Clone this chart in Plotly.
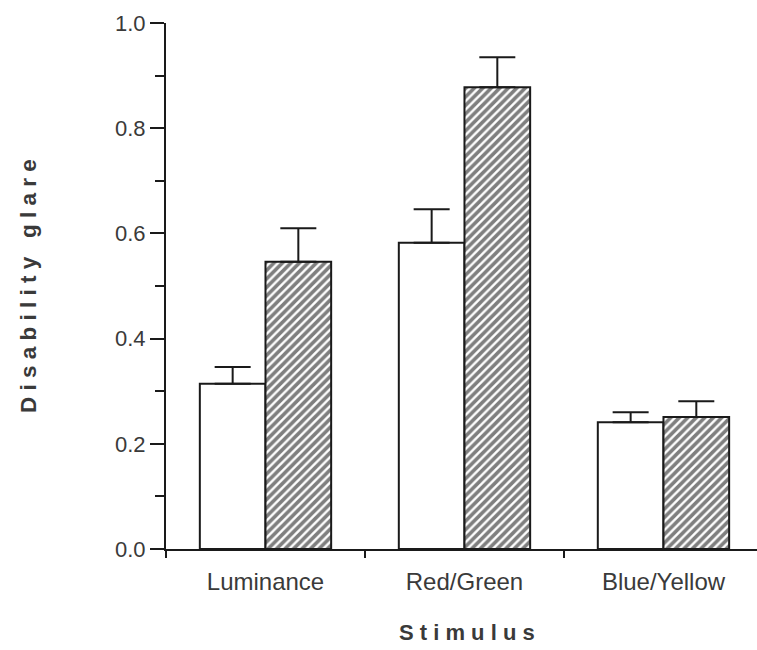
import plotly.graph_objects as go

# Disability glare measured for each stimulus type, two conditions
stimuli = ["Luminance", "Red/Green", "Blue/Yellow"]
open_values = [0.314, 0.582, 0.241]
open_errors = [0.032, 0.064, 0.019]
hatched_values = [0.546, 0.878, 0.251]
hatched_errors = [0.064, 0.057, 0.030]
y_ticks = [0.0, 0.2, 0.4, 0.6, 0.8, 1.0]
y_tick_labels = ["0.0", "0.2", "0.4", "0.6", "0.8", "1.0"]

FONT = "Liberation Sans, Arial, Helvetica, sans-serif"
INK = "#1a1a1a"
TEXT = "#3a3a3a"


def spaced(s, gap=" "):
    return gap.join(list(s))


fig = go.Figure()

fig.add_trace(go.Bar(
    x=stimuli, y=open_values,
    marker=dict(color="white", line=dict(color=INK, width=2)),
    error_y=dict(type="data", symmetric=False, array=open_errors,
                 arrayminus=[0] * len(open_errors),
                 color=INK, thickness=2, width=18),
    showlegend=False,
))

fig.add_trace(go.Bar(
    x=stimuli, y=hatched_values,
    marker=dict(color="white", line=dict(color=INK, width=2),
                pattern=dict(shape="/", size=6, solidity=0.6,
                             fgcolor="#000000", bgcolor="white")),
    error_y=dict(type="data", symmetric=False, array=hatched_errors,
                 arrayminus=[0] * len(hatched_errors),
                 color=INK, thickness=2, width=18),
    showlegend=False,
))

fig.update_layout(
    width=757, height=650,
    margin=dict(l=166, r=0, t=23, b=101),
    paper_bgcolor="white", plot_bgcolor="white",
    barmode="group", bargap=0.34, bargroupgap=0,
    font=dict(family=FONT, color=TEXT),
)

fig.update_xaxes(
    type="category", range=[-0.5, 2.47],
    showline=True, linecolor=INK, linewidth=2,
    ticks="outside", tickson="boundaries", ticklen=7, tickwidth=2,
    tickcolor=INK, ticklabelstandoff=10,
    tickfont=dict(size=24, color=TEXT, family=FONT),
    showgrid=False, zeroline=False,
)

fig.update_yaxes(
    range=[0, 1.0],
    tickvals=y_ticks, ticktext=y_tick_labels,
    showline=True, linecolor=INK, linewidth=2,
    ticks="outside", ticklen=14, tickwidth=2, tickcolor=INK,
    minor=dict(ticks="outside", ticklen=9, tickwidth=2, tickcolor=INK,
               tick0=0, dtick=0.1),
    tickfont=dict(size=22, color=TEXT, family=FONT),
    showgrid=False, zeroline=False,
)

# Axis titles, set with wide letter spacing
fig.add_annotation(
    text=spaced("Disability") + "   " + spaced("glare"),
    xref="paper", yref="paper",
    x=(28 - 166) / 591, y=0.5,
    xanchor="center", yanchor="middle", textangle=-90, showarrow=False,
    font=dict(size=22.5, color=TEXT, family=FONT, weight="bold"),
)
fig.add_annotation(
    text=spaced("Stimulus"),
    xref="paper", yref="paper",
    x=(467 - 166) / 591, y=-(632 - 549) / 526,
    xanchor="center", yanchor="middle", showarrow=False,
    font=dict(size=22, color=TEXT, family=FONT, weight="bold"),
)

fig.write_html("out.html")
